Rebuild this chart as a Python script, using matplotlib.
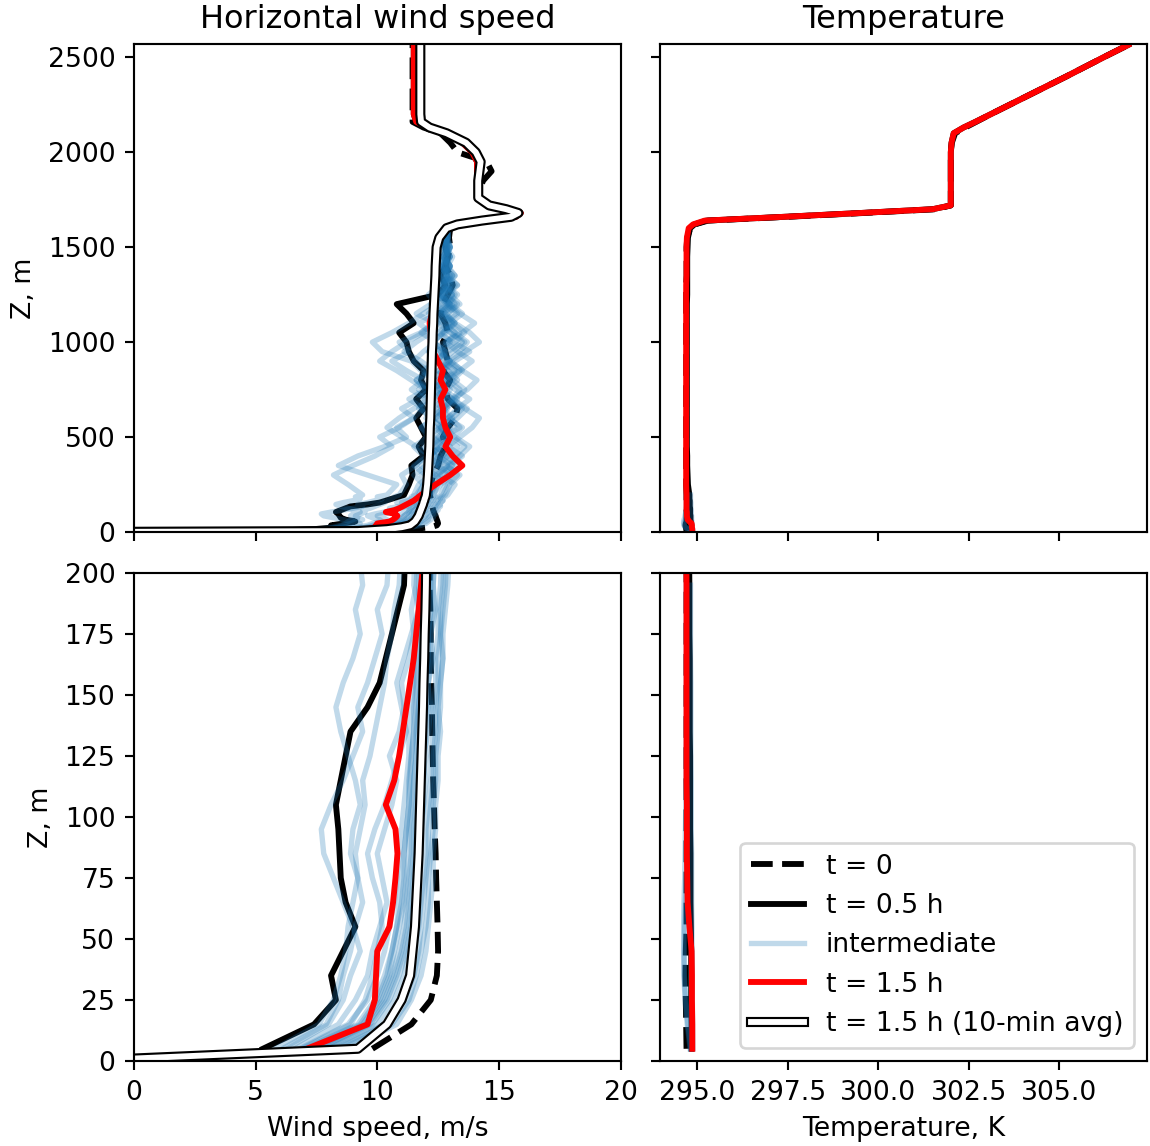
import numpy as np
import matplotlib.pyplot as plt
import matplotlib.patheffects as pe

# height levels, m
z_low = [5, 15, 25, 35, 45, 55, 65, 75, 85, 95, 105, 115, 125, 135, 145, 155, 165, 175, 185, 195]
z_mid = [250, 300, 350, 400, 450, 500, 550, 600, 650, 700, 750, 800, 850, 900, 950, 1000, 1050,
         1100, 1150, 1200, 1250, 1300, 1350, 1400, 1450, 1500, 1550, 1600]
z_top = [1620, 1640, 1660, 1680, 1700, 1720, 1760, 1800, 1850, 1900, 1950, 2000, 2050, 2100,
         2130, 2160, 2200, 2300, 2400, 2500, 2565]
z = z_low + z_mid + z_top
z_pbl = z_low + z_mid
z_avg = [1] + z

# horizontal wind speed, m/s
U_t0 = [9.8, 11.4, 12.2, 12.45, 12.5, 12.48, 12.45, 12.42, 12.4, 12.36, 12.33, 12.3, 12.28, 12.26,
        12.25, 12.22, 12.2, 12.2, 12.18, 12.15,
        12.2, 12.3, 12.5, 12.6, 12.8, 12.7, 12.9, 13.2, 13.3, 12.9, 12.8, 13.0, 12.7, 12.9, 12.8,
        12.7, 12.9, 12.8, 12.6, 12.7, 12.9, 13.1, 13.0, 12.8, 12.9, 13.0, 12.95, 13.0,
        13.5, 14.4, 15.7, 16.0, 15.2, 14.5, 14.1, 14.2, 14.35, 14.7, 14.5, 13.3, 13.0, 12.6, 11.9,
        11.45, 11.45, 11.45, 11.45, 11.45, 11.45]
U_t05 = [5.3, 7.4, 8.3, 8.1, 8.6, 9.1, 8.7, 8.5, 8.45, 8.4, 8.3, 8.5, 8.7, 8.9, 9.6, 10.1, 10.35,
         10.6, 10.85, 11.1,
         11.3, 11.45, 11.4, 11.9, 11.7, 12.0, 11.8, 11.6, 11.9, 11.6, 12.0, 11.8, 11.9, 11.5, 11.3,
         11.2, 10.9, 11.5, 11.2, 10.8, 12.5, 12.8, 12.6, 12.8, 12.9, 12.8, 12.8, 12.9,
         13.5, 14.4, 15.6, 15.9, 15.2, 14.5, 14.1, 14.1, 14.1, 14.1, 14.1, 13.9, 13.5, 12.8, 12.1,
         11.6, 11.5, 11.5, 11.5, 11.5, 11.5]
U_t15 = [7.1, 9.6, 9.9, 9.95, 10.0, 10.5, 10.65, 10.75, 10.83, 10.75, 10.35, 10.7, 10.9, 11.05,
         11.2, 11.35, 11.5, 11.6, 11.7, 11.8,
         12.4, 13.0, 13.5, 13.1, 12.8, 13.0, 12.8, 12.7, 12.7, 12.6, 12.8, 12.6, 12.7, 12.5, 12.3,
         12.2, 12.2, 12.15, 12.25, 12.3, 12.3, 12.35, 12.35, 12.4, 12.4, 12.45, 12.5, 12.9,
         13.5, 14.4, 15.7, 15.9, 15.2, 14.5, 14.1, 14.1, 14.1, 14.1, 14.1, 13.9, 13.5, 12.8, 12.1,
         11.6, 11.5, 11.5, 11.5, 11.5, 11.5]
U_avg = [0.0,
         9.2, 10.4, 11.0, 11.35, 11.45, 11.55, 11.6, 11.65, 11.7, 11.73, 11.76, 11.79, 11.82, 11.85,
         11.88, 11.9, 11.93, 11.95, 11.98, 12.0,
         12.05, 12.08, 12.1, 12.12, 12.14, 12.15, 12.16, 12.18, 12.19, 12.2, 12.21, 12.22, 12.23,
         12.24, 12.25, 12.27, 12.28, 12.3, 12.31, 12.33, 12.35, 12.37, 12.39, 12.4, 12.42, 12.44,
         12.55, 12.85,
         13.3, 14.3, 15.5, 15.8, 15.3, 14.6, 14.15, 14.15, 14.15, 14.2, 14.25, 14.05, 13.65, 12.85,
         12.15, 11.8, 11.77, 11.77, 11.77, 11.77, 11.77]

# intermediate outputs (boundary layer only)
U_i1 = [5.8, 7.6, 8.2, 8.5, 8.7, 8.8, 9.0, 9.2, 9.1, 9.3, 9.5, 9.4, 9.7, 9.9, 10.1, 10.3, 10.4, 10.6, 10.7, 10.9,
        11.2, 11.0, 11.6, 11.9, 11.5, 12.1, 11.8, 12.3, 11.7, 12.0, 11.4, 11.9, 11.2, 10.6, 11.3, 10.9,
        11.8, 12.4, 11.6, 12.2, 12.8, 12.5, 13.1, 12.7, 13.0, 12.8, 12.9, 12.8]
U_i2 = [6.3, 8.0, 8.6, 8.9, 9.3, 9.0, 8.6, 8.2, 7.8, 7.7, 8.1, 8.6, 9.0, 9.4, 9.2, 9.6, 9.9, 10.2, 10.0, 10.4,
        10.8, 9.6, 8.4, 9.2, 10.3, 11.2, 10.8, 11.5, 11.9, 11.3, 12.0, 11.6, 12.3, 11.8, 11.1, 11.6,
        12.2, 11.7, 12.5, 13.0, 12.6, 13.3, 12.9, 12.7, 13.0, 12.8, 12.6, 12.9]
U_i3 = [7.0, 9.2, 9.9, 10.3, 10.6, 10.8, 10.9, 11.0, 11.1, 11.2, 11.3, 11.35, 11.4, 11.5, 11.6, 11.6, 11.7,
        11.7, 11.8, 11.8,
        12.0, 12.3, 12.1, 12.6, 12.2, 12.8, 12.4, 12.0, 12.5, 12.9, 12.3, 12.7, 13.2, 12.6, 12.1, 12.8,
        13.4, 12.9, 12.4, 12.9, 13.2, 12.8, 12.6, 13.0, 12.7, 12.9, 12.8, 12.9]
U_i4 = [8.8, 10.8, 11.4, 11.8, 12.0, 12.1, 12.2, 12.3, 12.3, 12.4, 12.4, 12.5, 12.5, 12.6, 12.5, 12.6, 12.7,
        12.6, 12.7, 12.8,
        13.0, 13.4, 12.8, 13.2, 13.6, 13.1, 13.5, 12.9, 13.3, 13.8, 13.2, 12.7, 13.4, 13.9, 13.3, 12.8,
        13.5, 14.0, 13.4, 12.9, 13.3, 12.8, 13.1, 12.7, 12.9, 13.0, 12.8, 12.9]
U_i5 = [6.6, 8.4, 9.1, 9.6, 9.8, 10.1, 10.4, 10.2, 10.0, 10.3, 10.6, 10.8, 10.5, 10.9, 11.1, 11.0, 11.3,
        11.5, 11.4, 11.6,
        11.9, 12.4, 11.8, 12.2, 11.6, 11.0, 10.4, 10.9, 11.5, 12.1, 11.7, 12.3, 11.8, 11.4, 10.2, 9.8,
        10.6, 11.3, 11.9, 12.5, 12.1, 12.6, 12.3, 12.8, 12.5, 12.7, 12.6, 12.8]
U_i6 = [7.8, 9.8, 10.5, 10.9, 11.2, 11.4, 11.5, 11.7, 11.6, 11.8, 11.9, 12.0, 11.9, 12.1, 12.2, 12.1, 12.3,
        12.2, 12.4, 12.3,
        12.6, 13.1, 12.5, 12.9, 13.3, 12.7, 13.4, 13.0, 12.6, 13.2, 13.6, 13.1, 12.5, 12.9, 13.4, 13.7,
        13.2, 12.8, 13.3, 12.9, 12.6, 13.1, 12.8, 13.0, 12.7, 12.9, 12.8, 12.9]
U_i7 = [7.3, 9.4, 10.1, 10.5, 10.7, 10.9, 11.1, 11.2, 11.3, 11.3, 11.4, 11.5, 11.6, 11.6, 11.7, 11.8, 11.8,
        11.9, 11.9, 12.0,
        12.3, 11.8, 12.4, 12.9, 12.4, 12.0, 12.6, 13.1, 12.7, 12.2, 12.8, 13.3, 12.9, 12.4, 12.9, 13.5,
        13.0, 12.6, 13.2, 12.8, 12.5, 12.9, 13.2, 12.8, 13.0, 12.7, 12.9, 12.9]
U_i8 = [6.1, 7.9, 8.4, 8.6, 8.9, 9.1, 9.4, 9.2, 8.9, 9.0, 9.3, 9.1, 8.8, 8.5, 8.3, 8.6, 9.0, 9.3, 9.1, 9.4,
        8.8, 8.2, 9.0, 9.9, 10.6, 10.1, 10.9, 11.5, 11.0, 11.7, 12.2, 11.6, 12.1, 11.5, 11.9, 12.4,
        11.8, 12.3, 12.7, 12.2, 12.8, 12.5, 12.9, 12.6, 13.0, 12.7, 12.8, 12.9]
U_i9 = [8.2, 10.3, 11.0, 11.3, 11.5, 11.7, 11.8, 11.9, 12.0, 12.0, 12.1, 12.2, 12.2, 12.3, 12.3, 12.4, 12.4,
        12.5, 12.5, 12.6,
        12.8, 12.4, 13.0, 13.5, 12.9, 13.4, 13.9, 14.2, 13.6, 13.1, 13.7, 14.1, 13.5, 13.0, 13.6, 14.2,
        13.8, 13.2, 12.8, 13.4, 13.0, 12.7, 13.2, 12.9, 13.1, 12.8, 12.9, 12.9]
U_i10 = [6.9, 8.9, 9.5, 9.8, 10.0, 10.2, 10.1, 9.8, 9.6, 9.9, 10.3, 10.6, 10.9, 11.2, 11.0, 10.8, 11.1,
         11.4, 11.7, 11.5,
         11.7, 12.2, 12.6, 12.1, 12.7, 12.3, 11.8, 12.4, 12.9, 12.5, 12.0, 11.4, 10.8, 10.1, 10.6, 11.2,
         11.9, 12.5, 12.1, 12.6, 13.1, 12.7, 12.9, 12.6, 12.8, 13.0, 12.7, 12.9]
U_i11 = [7.6, 9.6, 10.3, 10.7, 11.0, 11.2, 11.3, 11.4, 11.5, 11.5, 11.6, 11.7, 11.7, 11.8, 11.9, 11.9, 12.0,
         12.0, 12.1, 12.1,
         12.4, 12.0, 11.5, 12.1, 12.6, 13.0, 12.5, 12.9, 13.4, 12.8, 12.3, 12.8, 13.2, 12.7, 13.1, 13.6,
         13.0, 12.5, 12.9, 13.3, 12.7, 13.0, 12.6, 12.9, 12.7, 13.0, 12.8, 12.9]
U_i12 = [8.5, 10.6, 11.3, 11.6, 11.8, 12.0, 12.1, 12.1, 12.2, 12.3, 12.3, 12.4, 12.4, 12.5, 12.6, 12.6, 12.7,
         12.7, 12.8, 12.9,
         13.2, 12.6, 13.1, 12.5, 12.0, 12.6, 13.0, 12.4, 12.8, 13.3, 12.7, 12.2, 12.7, 13.2, 13.8, 13.1,
         12.5, 13.0, 13.5, 13.0, 12.6, 13.0, 12.7, 12.9, 12.8, 13.0, 12.9, 12.9]
U_i13 = [7.4, 9.5, 10.2, 10.6, 10.9, 11.1, 11.2, 11.3, 11.4, 11.4, 11.5, 11.5, 11.6, 11.7, 11.7, 11.8, 11.8,
         11.9, 11.9, 12.0,
         12.2, 12.6, 12.3, 12.7, 13.0, 12.5, 12.9, 12.4, 12.8, 13.1, 12.6, 12.2, 12.7, 13.0, 12.5, 12.9,
         13.2, 12.7, 12.4, 12.8, 13.1, 12.7, 12.9, 12.6, 12.8, 12.9, 12.8, 12.9]
U_i14 = [7.2, 9.3, 10.0, 10.4, 10.6, 10.8, 11.0, 11.1, 11.1, 11.2, 11.3, 11.3, 11.4, 11.5, 11.5, 11.6, 11.7,
         11.7, 11.8, 11.9,
         12.1, 12.5, 12.9, 12.4, 12.1, 12.7, 13.2, 12.8, 12.3, 12.7, 13.0, 12.5, 12.9, 12.4, 12.8, 12.3,
         12.7, 13.1, 12.6, 12.9, 12.5, 12.9, 12.7, 13.0, 12.8, 12.7, 12.9, 12.9]
U_i15 = [8.0, 10.0, 10.7, 11.1, 11.3, 11.5, 11.6, 11.7, 11.8, 11.8, 11.9, 11.9, 12.0, 12.0, 12.1, 12.1, 12.2,
         12.2, 12.3, 12.3,
         12.5, 12.9, 13.3, 12.8, 12.4, 12.9, 12.6, 13.1, 13.5, 12.9, 12.5, 13.0, 13.4, 12.9, 12.6, 13.0,
         12.7, 13.2, 12.8, 12.5, 12.9, 13.2, 12.8, 13.0, 12.7, 12.9, 12.8, 12.9]
U_i16 = [6.8, 8.8, 9.6, 10.0, 10.3, 10.5, 10.7, 10.8, 10.9, 11.0, 11.1, 11.2, 11.3, 11.3, 11.4, 11.5, 11.5,
         11.6, 11.7, 11.7,
         11.9, 11.5, 12.0, 12.4, 11.9, 12.3, 12.7, 12.2, 11.8, 12.3, 12.8, 12.4, 11.9, 12.4, 12.8, 12.3,
         12.7, 12.2, 12.6, 13.0, 12.6, 12.9, 12.5, 12.8, 12.6, 12.9, 12.7, 12.9]
U_i17 = [7.7, 9.7, 10.4, 10.8, 11.1, 11.3, 11.4, 11.5, 11.6, 11.6, 11.7, 11.8, 11.8, 11.9, 12.0, 12.0, 12.1,
         12.1, 12.2, 12.2,
         12.4, 12.9, 12.5, 12.1, 12.6, 13.0, 12.6, 12.2, 12.7, 13.1, 13.4, 12.9, 12.5, 13.0, 12.6, 12.2,
         12.8, 13.2, 12.7, 13.1, 12.8, 12.6, 13.0, 12.7, 12.9, 12.8, 12.9, 12.9]
U_i18 = [8.3, 10.4, 11.1, 11.5, 11.7, 11.8, 11.9, 12.0, 12.1, 12.1, 12.2, 12.3, 12.3, 12.4, 12.4, 12.5, 12.5,
         12.6, 12.6, 12.7,
         12.9, 13.3, 12.9, 13.4, 13.8, 13.2, 12.8, 13.3, 13.7, 13.1, 12.6, 13.1, 13.5, 13.0, 12.7, 13.2,
         13.6, 13.1, 12.7, 13.2, 12.9, 13.3, 12.8, 13.0, 12.8, 13.0, 12.9, 12.9]
U_inter = [U_i1, U_i2, U_i3, U_i4, U_i5, U_i6, U_i7, U_i8, U_i9, U_i10, U_i11, U_i12,
           U_i13, U_i14, U_i15, U_i16, U_i17, U_i18]

# potential temperature, K
T_t0 = [294.70, 294.69, 294.68, 294.67, 294.68, 294.70, 294.70, 294.70, 294.70, 294.70, 294.70, 294.70,
        294.70, 294.70, 294.70, 294.70, 294.70, 294.70, 294.70, 294.70,
        294.69, 294.69, 294.69, 294.69, 294.69, 294.69, 294.69, 294.69, 294.69, 294.69, 294.69, 294.69,
        294.69, 294.69, 294.69, 294.69, 294.69, 294.69, 294.69, 294.69, 294.69, 294.69, 294.70, 294.70,
        294.70, 294.70, 294.72, 294.80,
        294.93, 295.3, 297.5, 299.6, 301.6, 302.0, 302.0, 302.0, 302.0, 302.0, 302.0, 302.0,
        302.03, 302.12, 302.4, 302.7, 303.1, 304.15, 305.2, 306.22, 306.9]
T_t05 = [294.84, 294.84, 294.83, 294.83, 294.83, 294.82, 294.81, 294.81, 294.81, 294.80, 294.80, 294.80,
         294.80, 294.79, 294.79, 294.79, 294.79, 294.78, 294.78, 294.78,
         294.74, 294.73, 294.72, 294.72, 294.71, 294.71, 294.71, 294.71, 294.71, 294.71, 294.71, 294.71,
         294.71, 294.71, 294.71, 294.71, 294.71, 294.71, 294.71, 294.71, 294.72, 294.72, 294.72, 294.72,
         294.72, 294.73, 294.74, 294.80,
         294.92, 295.25, 297.4, 299.5, 301.5, 302.0, 302.0, 302.0, 302.0, 302.0, 302.0, 302.0,
         302.02, 302.08, 302.35, 302.68, 303.1, 304.15, 305.2, 306.22, 306.9]
T_t15 = [294.86, 294.86, 294.85, 294.85, 294.84, 294.78, 294.73, 294.72, 294.71, 294.71, 294.71, 294.70,
         294.70, 294.70, 294.70, 294.70, 294.70, 294.70, 294.70, 294.70,
         294.69, 294.69, 294.69, 294.69, 294.69, 294.69, 294.69, 294.69, 294.69, 294.69, 294.69, 294.69,
         294.69, 294.69, 294.69, 294.69, 294.69, 294.69, 294.69, 294.69, 294.69, 294.69, 294.70, 294.70,
         294.70, 294.70, 294.71, 294.76,
         294.88, 295.2, 297.4, 299.5, 301.5, 302.0, 302.0, 302.0, 302.0, 302.0, 302.0, 302.0,
         302.02, 302.08, 302.35, 302.68, 303.1, 304.15, 305.2, 306.22, 306.9]
T_ia = [294.80, 294.72, 294.66, 294.63, 294.62, 294.62, 294.63, 294.65, 294.66, 294.67, 294.68, 294.68,
        294.68, 294.69, 294.69, 294.69, 294.69, 294.69, 294.69, 294.69]
T_ib = [294.88, 294.87, 294.86, 294.86, 294.85, 294.85, 294.84, 294.84, 294.84, 294.83, 294.83, 294.83,
        294.82, 294.82, 294.82, 294.82, 294.81, 294.81, 294.81, 294.81]
T_ic = [294.82, 294.74, 294.68, 294.64, 294.64, 294.65, 294.67, 294.70, 294.72, 294.72, 294.72, 294.71,
        294.71, 294.71, 294.71, 294.71, 294.71, 294.70, 294.70, 294.70]
T_inter = [T_ia, T_ib, T_ic]

fig, axs = plt.subplots(2, 2, sharex='col', sharey='row', figsize=(1150 / 192, 1146 / 192), dpi=192)
plt.subplots_adjust(left=0.1165, right=0.9974, top=0.9616, bottom=0.0742, wspace=0.082, hspace=0.084)

avg_fx = [pe.withStroke(linewidth=3.8, foreground='k')]
lw = 2.2

for row in range(2):
    ax = axs[row, 0]
    ax.plot(U_t0, z, 'k--', lw=lw, label='t = 0')
    ax.plot(U_t05, z, 'k-', lw=lw, label='t = 0.5 h')
    for i, u in enumerate(U_inter):
        ax.plot(u, z_pbl, color='C0', alpha=0.28, lw=2, label='intermediate' if i == 0 else None)
    ax.plot(U_t15, z, 'r-', lw=lw, label='t = 1.5 h')
    ax.plot(U_avg, z_avg, color='w', lw=2.2, path_effects=avg_fx, label='t = 1.5 h (10-min avg)')

    ax = axs[row, 1]
    ax.plot(T_t0, z, 'k--', lw=lw)
    ax.plot(T_t05, z, 'k-', lw=lw)
    for t in T_inter:
        ax.plot(t, z_low, color='C0', alpha=0.3, lw=2)
    ax.plot(T_t15, z, 'r-', lw=lw)

axs[0, 0].set_xlim(0, 20)
axs[0, 1].set_xlim(293.98, 307.42)
axs[0, 0].set_ylim(0, 2570)
axs[1, 0].set_ylim(0, 200)

axs[0, 0].set_title('Horizontal wind speed', fontsize=12)
axs[0, 1].set_title('Temperature', fontsize=12)
axs[0, 0].set_ylabel('Z, m')
axs[1, 0].set_ylabel('Z, m')
axs[1, 0].set_xlabel('Wind speed, m/s')
axs[1, 1].set_xlabel('Temperature, K')

handles, labels = axs[1, 0].get_legend_handles_labels()
axs[1, 1].legend(handles, labels, loc='lower right')

plt.savefig('out.png', dpi=192)
